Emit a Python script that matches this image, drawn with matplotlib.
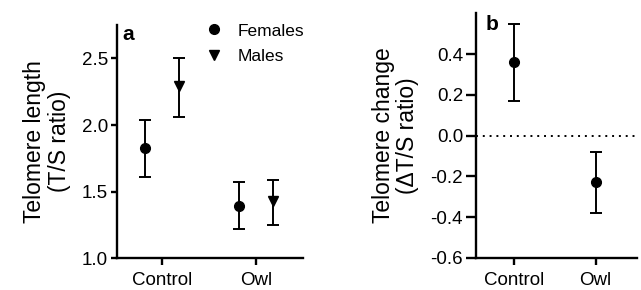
import matplotlib.pyplot as plt

plt.rcParams['font.family'] = ['Liberation Sans', 'DejaVu Sans']
plt.rcParams['axes.unicode_minus'] = False

groups = ['Control', 'Owl']

# panel a: telomere length by sex
fem_mean = [1.83, 1.39]
fem_lo = [1.61, 1.22]
fem_hi = [2.04, 1.57]
male_mean = [2.29, 1.43]
male_lo = [2.06, 1.25]
male_hi = [2.50, 1.59]

# panel b: telomere change
chg_mean = [0.36, -0.23]
chg_lo = [0.17, -0.38]
chg_hi = [0.55, -0.08]


def style_axes(ax, ylen):
    for s in ['top', 'right']:
        ax.spines[s].set_visible(False)
    for s in ['left', 'bottom']:
        ax.spines[s].set_linewidth(1.7)
    ax.tick_params(axis='both', width=1.7, labelsize=13.5, pad=2)
    ax.tick_params(axis='y', length=ylen)
    ax.tick_params(axis='x', length=5, pad=5)


def errs(mean, lo, hi):
    return [[m - l for m, l in zip(mean, lo)], [h - m for m, h in zip(mean, hi)]]


fig = plt.figure(figsize=(6.41, 2.90), dpi=100)
ax1 = fig.add_axes([0.1825, 0.110, 0.290, 0.803])
ax2 = fig.add_axes([0.742, 0.111, 0.251, 0.843])

eb = dict(color='black', capsize=4, elinewidth=1.4, capthick=1.4, linestyle='none', markersize=7)
xs = range(len(groups))
ax1.errorbar([x - 0.185 for x in xs], fem_mean, yerr=errs(fem_mean, fem_lo, fem_hi),
             marker='o', label='Females', **eb)
ax1.errorbar([x + 0.185 for x in xs], male_mean, yerr=errs(male_mean, male_lo, male_hi),
             marker='v', label='Males', **eb)
ax1.set_xlim(-0.48, 1.5)
ax1.set_ylim(1.0, 2.75)
ax1.set_yticks([1.0, 1.5, 2.0, 2.5])
ax1.set_xticks(list(xs))
ax1.set_xticklabels(groups)
ax1.set_ylabel('Telomere length\n(T/S ratio)', fontsize=16.5, linespacing=1.1, labelpad=8)
style_axes(ax1, 4.5)
handles = [h[0] for h in ax1.get_legend_handles_labels()[0]]
ax1.legend(handles=handles, labels=['Females', 'Males'], loc='upper left', frameon=False,
           fontsize=12.5, bbox_to_anchor=(0.39, 1.075), handletextpad=0.9,
           labelspacing=0.6, handlelength=1.0)
ax1.text(0.03, 1.0, 'a', transform=ax1.transAxes, fontsize=15, fontweight='bold', va='top')

ax2.errorbar(list(xs), chg_mean, yerr=errs(chg_mean, chg_lo, chg_hi), marker='o', **eb)
ax2.axhline(0, color='black', linestyle=(0, (1, 2.5)), linewidth=1.4)
ax2.set_xlim(-0.47, 1.5)
ax2.set_ylim(-0.6, 0.6)
ax2.set_yticks([-0.6, -0.4, -0.2, 0.0, 0.2, 0.4])
ax2.set_xticks(list(xs))
ax2.set_xticklabels(groups)
ax2.set_ylabel('Telomere change\n(\u0394T/S ratio)', fontsize=16.5, linespacing=1.1, labelpad=8)
style_axes(ax2, 7)
ax2.text(0.06, 0.995, 'b', transform=ax2.transAxes, fontsize=15, fontweight='bold', va='top')

fig.savefig('out.png', dpi=100)
